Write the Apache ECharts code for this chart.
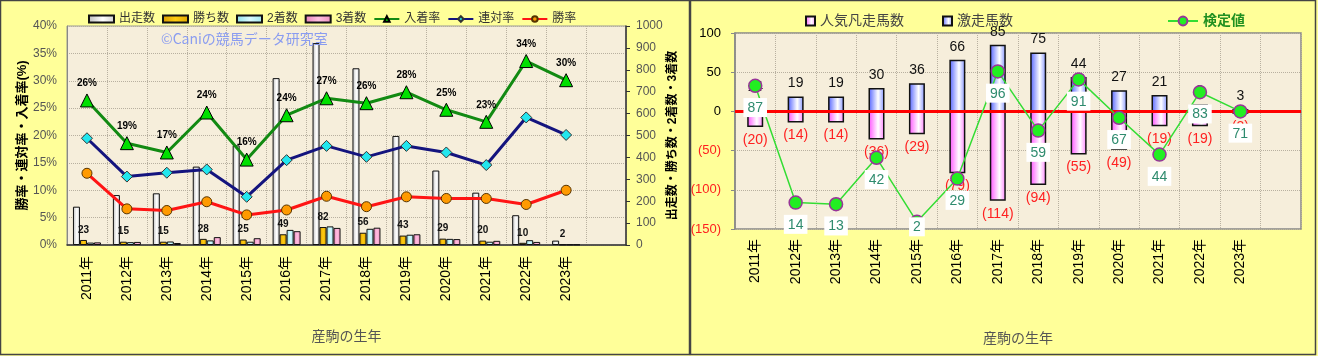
<!DOCTYPE html>
<html>
<head>
<meta charset="utf-8">
<script src="https://cdn.jsdelivr.net/npm/echarts@6/dist/echarts.min.js"></script>
<style>
html,body{margin:0;padding:0;background:#fff;}
#c{width:1318px;height:356px;}
</style>
</head>
<body>
<div id="c"></div>
<script>
// ---- data (left chart) ----
const years = ['2011年','2012年','2013年','2014年','2015年','2016年','2017年','2018年','2019年','2020年','2021年','2022年','2023年'];
const starts  = [175, 228, 236, 358, 455, 762, 922, 807, 498, 340, 239, 136, 20];
const wins    = [23, 15, 15, 28, 25, 49, 82, 56, 43, 29, 20, 10, 2];
const seconds = [11, 13, 16, 21, 15, 69, 85, 74, 47, 28, 15, 22, 2];
const thirds  = [12, 14, 9, 36, 31, 63, 78, 79, 49, 27, 19, 14, 2];
const placeRate  = [26.4, 18.6, 16.9, 24.2, 15.6, 23.7, 26.8, 25.9, 27.9, 24.7, 22.5, 33.6, 30.1];
const rentaiRate = [19.5, 12.5, 13.2, 13.8, 8.8, 15.5, 18.1, 16.1, 18.1, 16.9, 14.6, 23.3, 20.1];
const winRate    = [13.1, 6.6, 6.3, 7.9, 5.5, 6.4, 8.9, 7.0, 8.8, 8.5, 8.5, 7.4, 10.0];
// ---- data (right chart) ----
const gekisou = [14, 19, 19, 30, 36, 66, 85, 75, 44, 27, 21, 9, 3];
const bonsou  = [-20, -14, -14, -36, -29, -79, -114, -94, -55, -49, -19, -19, -3];
const kentei  = [87, 14, 13, 42, 2, 29, 96, 59, 91, 67, 44, 83, 71];

const cats = years.concat(['']);
const FONT = "'Liberation Sans','Noto Sans CJK JP',sans-serif";
const LG = echarts.graphic.LinearGradient;

const chart = echarts.init(document.getElementById('c'), null, {renderer:'canvas'});

const splitDotted = {show:true, lineStyle:{color:'#b8b0a0', type:'dotted', width:1}};

// 検定値: a label that would fall below the plot is kept inside it (as the original does)
const kenteiData = kentei.map(v => v < 5
  ? {value: v, label: {position: 'inside', offset: [0, 5]}}
  : v);

const option = {
  backgroundColor: '#FFFF99',
  textStyle: {fontFamily: FONT},
  animation: false,
  graphic: [
    {type:'rect', shape:{x:0.5, y:0.5, width:689, height:354}, style:{fill:'none', stroke:'#444', lineWidth:1.5}, z:100},
    {type:'rect', shape:{x:690.5, y:0.5, width:625, height:354}, style:{fill:'none', stroke:'#444', lineWidth:1.5}, z:100},
    {type:'text', left:161, top:32, style:{text:'©Caniの競馬データ研究室', fill:'#8A9CF0', font:"14px 'Noto Sans CJK JP',sans-serif"}, z:100}
  ],
  legend: [
    {
      data: [
        {name:'出走数', icon:'rect'}, {name:'勝ち数', icon:'rect'}, {name:'2着数', icon:'rect'}, {name:'3着数', icon:'rect'},
        {name:'入着率'}, {name:'連対率'}, {name:'勝率'}
      ],
      left: 83, top: 8, itemWidth: 25, itemHeight: 7, itemGap: 7,
      textStyle: {fontSize: 12, color:'#333', fontFamily: FONT}
    },
    {
      data: ['人気凡走馬数','激走馬数'], icon:'rect',
      left: 800, top: 9, itemWidth: 9, itemHeight: 9, itemGap: 38,
      textStyle: {fontSize: 14, color:'#444', fontFamily: FONT}
    },
    {
      data: ['検定値'],
      left: 1162, top: 9, itemWidth: 30, itemHeight: 11,
      textStyle: {fontSize: 14, color:'#209020', fontWeight:'bold', fontFamily: FONT}
    }
  ],
  grid: [
    {left:67, right:692, top:26, height:219, show:true, backgroundColor:'#F6EEDB', borderColor:'#999', borderWidth:1, outerBoundsMode:'none', containLabel:false},
    {left:735, right:17, top:33, height:196, show:true, backgroundColor:'#F6EEDB', borderColor:'#888', borderWidth:1.5, outerBoundsMode:'none', containLabel:false}
  ],
  xAxis: [
    {
      type:'category', gridIndex:0, data: cats, boundaryGap:true,
      axisLine:{show:true, lineStyle:{color:'#333', width:1.5}}, axisTick:{show:false},
      axisLabel:{rotate:90, fontSize:14, color:'#000', margin:11, interval:0},
      splitLine: splitDotted,
      name:'産駒の生年', nameLocation:'middle', nameGap:85, nameTextStyle:{fontSize:14, color:'#555'}
    },
    {
      type:'category', gridIndex:1, data: cats, boundaryGap:true,
      axisLine:{show:true, lineStyle:{color:'#888', width:1.5}}, axisTick:{show:false},
      axisLabel:{rotate:90, fontSize:14, color:'#000', margin:10, interval:0},
      splitLine: splitDotted,
      name:'産駒の生年', nameLocation:'middle', nameGap:103, nameTextStyle:{fontSize:14, color:'#555'}
    }
  ],
  yAxis: [
    {
      type:'value', gridIndex:0, min:0, max:40, interval:5, position:'left',
      axisLine:{show:true, lineStyle:{color:'#888', width:1}}, axisTick:{show:false},
      axisLabel:{formatter:'{value}%', fontSize:12, color:'#555', margin:10},
      splitLine: splitDotted,
      name:'勝率・連対率・入着率(%)', nameLocation:'middle', nameGap:37, nameRotate:90,
      nameTextStyle:{fontSize:13, color:'#000', fontWeight:'bold'}
    },
    {
      type:'value', gridIndex:0, min:0, max:1000, interval:100, position:'right',
      axisLine:{show:true, lineStyle:{color:'#333', width:1.5}}, axisTick:{show:true, length:4, lineStyle:{color:'#333'}},
      axisLabel:{fontSize:12, color:'#555', margin:10, formatter: v => String(v)},
      splitLine:{show:false},
      name:'出走数・勝ち数・2着数・3着数', nameLocation:'middle', nameGap:40, nameRotate:90,
      nameTextStyle:{fontSize:12, color:'#000', fontWeight:'bold'}
    },
    {
      type:'value', gridIndex:1, min:-150, max:100, interval:50, position:'left',
      axisLine:{show:true, lineStyle:{color:'#888', width:1.5}}, axisTick:{show:true, length:4, lineStyle:{color:'#888'}},
      axisLabel:{fontSize:13, margin:14, color:'#000',
        formatter: v => v < 0 ? '{n|(' + (-v) + ')}' : '{p|' + v + '}',
        rich:{n:{color:'#FF2020', fontSize:13}, p:{color:'#000', fontSize:13}}},
      splitLine: splitDotted
    },
    {
      type:'value', gridIndex:1, min:-2.5, max:120, show:false, splitLine:{show:false}
    }
  ],
  series: [
    {
      name:'出走数', type:'bar', xAxisIndex:0, yAxisIndex:1, data: starts, barWidth:7, barGap:'0%',
      itemStyle:{color:new LG(0,0,1,0,[{offset:0,color:'#bdbdbd'},{offset:0.55,color:'#ffffff'},{offset:1,color:'#d0d0d0'}]), borderColor:'#111', borderWidth:1}
    },
    {
      name:'勝ち数', type:'bar', xAxisIndex:0, yAxisIndex:1, data: wins, barWidth:7, barGap:'0%',
      itemStyle:{color:new LG(0,0,1,0,[{offset:0,color:'#D89A00'},{offset:0.5,color:'#FFCC10'},{offset:1,color:'#E0A800'}]), borderColor:'#111', borderWidth:1},
      label:{show:true, position:'top', distance:5, fontSize:10, fontWeight:'bold', color:'#111'}
    },
    {
      name:'2着数', type:'bar', xAxisIndex:0, yAxisIndex:1, data: seconds, barWidth:7, barGap:'0%',
      itemStyle:{color:new LG(0,0,1,0,[{offset:0,color:'#8EE0E8'},{offset:0.5,color:'#D8FAFF'},{offset:1,color:'#A0E8F0'}]), borderColor:'#111', borderWidth:1}
    },
    {
      name:'3着数', type:'bar', xAxisIndex:0, yAxisIndex:1, data: thirds, barWidth:7, barGap:'0%',
      itemStyle:{color:new LG(0,0,1,0,[{offset:0,color:'#E880B8'},{offset:0.5,color:'#FFC0E0'},{offset:1,color:'#EE90C0'}]), borderColor:'#111', borderWidth:1}
    },
    {
      name:'入着率', type:'line', xAxisIndex:0, yAxisIndex:0, data: placeRate, z:5,
      symbol:'triangle', symbolSize:13,
      lineStyle:{color:'#128A12', width:3}, itemStyle:{color:'#00E000', borderColor:'#000', borderWidth:1},
      label:{show:true, position:'top', distance:5, formatter: p => Math.round(p.value) + '%', fontSize:10, fontWeight:'bold', color:'#000'}
    },
    {
      name:'連対率', type:'line', xAxisIndex:0, yAxisIndex:0, data: rentaiRate, z:5,
      symbol:'diamond', symbolSize:11,
      lineStyle:{color:'#14147E', width:3}, itemStyle:{color:'#22E6EE', borderColor:'#333', borderWidth:1}
    },
    {
      name:'勝率', type:'line', xAxisIndex:0, yAxisIndex:0, data: winRate, z:5,
      symbol:'circle', symbolSize:10,
      lineStyle:{color:'#FF1414', width:3}, itemStyle:{color:'#FF9A00', borderColor:'#553300', borderWidth:1}
    },
    {
      name:'人気凡走馬数', type:'bar', xAxisIndex:1, yAxisIndex:2, data: bonsou, barWidth:16, barGap:'-100%',
      itemStyle:{color:new LG(0,0,1,0,[{offset:0,color:'#FF50FF'},{offset:0.6,color:'#FFFFFF'},{offset:1,color:'#FF80FF'}]), borderColor:'#111', borderWidth:1.5},
      label:{show:true, position:'bottom', distance:6, formatter: p => '(' + (-p.value) + ')', color:'#FF2020', fontSize:14}
    },
    {
      name:'激走馬数', type:'bar', xAxisIndex:1, yAxisIndex:2, data: gekisou, barWidth:16, barGap:'-100%',
      itemStyle:{color:new LG(0,0,1,0,[{offset:0,color:'#5060FF'},{offset:0.6,color:'#FFFFFF'},{offset:1,color:'#8090FF'}]), borderColor:'#111', borderWidth:1.5},
      label:{show:true, position:'top', distance:6, color:'#111', fontSize:14},
      markLine:{silent:true, symbol:['none','none'], label:{show:false}, lineStyle:{color:'#FF0000', width:3, type:'solid'}, data:[{yAxis:0}]}
    },
    {
      name:'検定値', type:'line', xAxisIndex:1, yAxisIndex:3, data: kenteiData, z:6,
      symbol:'circle', symbolSize:13,
      lineStyle:{color:'#33DD33', width:1.5}, itemStyle:{color:'#22EE22', borderColor:'#993399', borderWidth:1.5},
      label:{show:true, position:'bottom', distance:5, backgroundColor:'#fff', padding:[3,4,2,4], color:'#2E8B6E', fontSize:14}
    }
  ]
};
chart.setOption(option);
</script>
</body>
</html>
